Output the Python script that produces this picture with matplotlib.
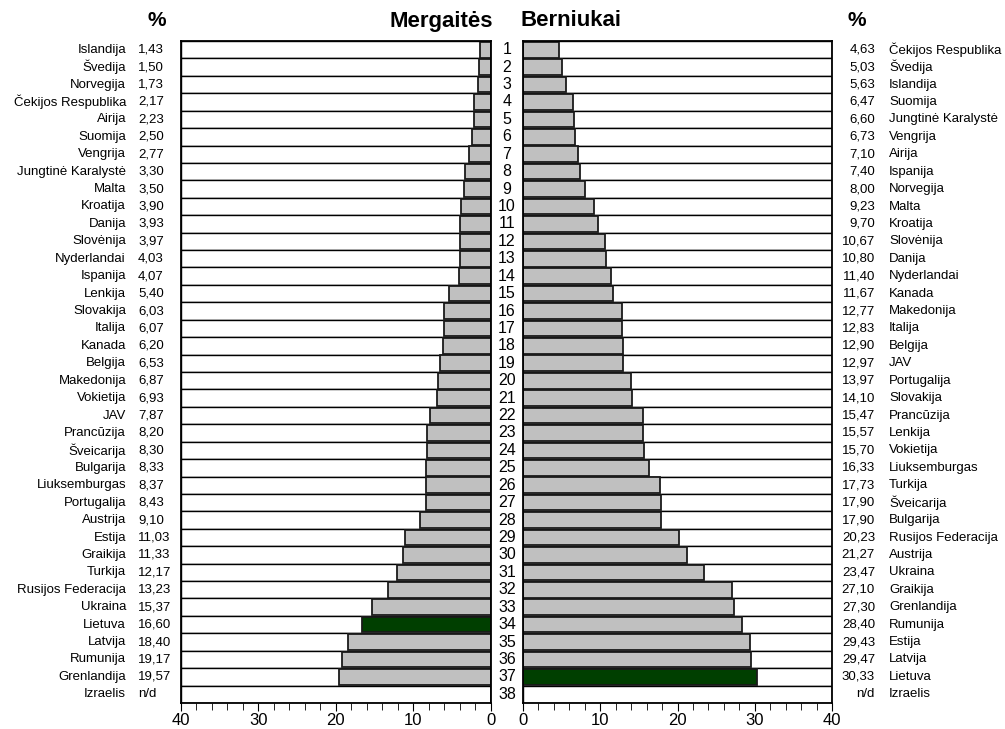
import numpy as np
import matplotlib.pyplot as plt
import matplotlib.transforms as mtransforms
from matplotlib.ticker import MultipleLocator

plt.rcParams['font.family'] = ['Liberation Sans', 'DejaVu Sans']

# Mergaitės (girls), ranked
girls_countries = ['Islandija', 'Švedija', 'Norvegija', 'Čekijos Respublika', 'Airija', 'Suomija',
                   'Vengrija', 'Jungtinė Karalystė', 'Malta', 'Kroatija', 'Danija', 'Slovėnija',
                   'Nyderlandai', 'Ispanija', 'Lenkija', 'Slovakija', 'Italija', 'Kanada', 'Belgija',
                   'Makedonija', 'Vokietija', 'JAV', 'Prancūzija', 'Šveicarija', 'Bulgarija',
                   'Liuksemburgas', 'Portugalija', 'Austrija', 'Estija', 'Graikija', 'Turkija',
                   'Rusijos Federacija', 'Ukraina', 'Lietuva', 'Latvija', 'Rumunija', 'Grenlandija',
                   'Izraelis']
girls_values = [1.43, 1.50, 1.73, 2.17, 2.23, 2.50, 2.77, 3.30, 3.50, 3.90, 3.93, 3.97, 4.03, 4.07,
                5.40, 6.03, 6.07, 6.20, 6.53, 6.87, 6.93, 7.87, 8.20, 8.30, 8.33, 8.37, 8.43, 9.10,
                11.03, 11.33, 12.17, 13.23, 15.37, 16.60, 18.40, 19.17, 19.57, None]

# Berniukai (boys), ranked
boys_countries = ['Čekijos Respublika', 'Švedija', 'Islandija', 'Suomija', 'Jungtinė Karalystė',
                  'Vengrija', 'Airija', 'Ispanija', 'Norvegija', 'Malta', 'Kroatija', 'Slovėnija',
                  'Danija', 'Nyderlandai', 'Kanada', 'Makedonija', 'Italija', 'Belgija', 'JAV',
                  'Portugalija', 'Slovakija', 'Prancūzija', 'Lenkija', 'Vokietija', 'Liuksemburgas',
                  'Turkija', 'Šveicarija', 'Bulgarija', 'Rusijos Federacija', 'Austrija', 'Ukraina',
                  'Graikija', 'Grenlandija', 'Rumunija', 'Estija', 'Latvija', 'Lietuva', 'Izraelis']
boys_values = [4.63, 5.03, 5.63, 6.47, 6.60, 6.73, 7.10, 7.40, 8.00, 9.23, 9.70, 10.67, 10.80,
               11.40, 11.67, 12.77, 12.83, 12.90, 12.97, 13.97, 14.10, 15.47, 15.57, 15.70, 16.33,
               17.73, 17.90, 17.90, 20.23, 21.27, 23.47, 27.10, 27.30, 28.40, 29.43, 29.47, 30.33,
               None]

highlight = 'Lietuva'
grey = '#c0c0c0'
green = '#003f00'

ranks = np.arange(1, len(girls_values) + 1)


def fmt(v):
    return 'n/d' if v is None else f'{v:.2f}'.replace('.', ',')


W, H = 1005, 729
fig = plt.figure(figsize=(W / 100, H / 100), dpi=100)
axL = fig.add_axes([180.5 / W, 26 / H, 310.5 / W, 662 / H])
axR = fig.add_axes([523 / W, 26 / H, 309 / W, 662 / H])

for ax, countries, values in [(axL, girls_countries, girls_values),
                              (axR, boys_countries, boys_values)]:
    # white row boxes behind the bars
    ax.barh(ranks, [40] * len(ranks), height=1.0, color='white', edgecolor='black', linewidth=1.0)
    vals = [0 if v is None else v for v in values]
    colors = [green if c == highlight else grey for c in countries]
    ax.barh(ranks, vals, height=0.9, color=colors, edgecolor='#1a1a1a', linewidth=1.3)
    ax.set_xlim(0, 40)
    ax.set_ylim(38.5, 0.5)
    ax.set_yticks([])
    ax.xaxis.set_major_locator(MultipleLocator(10))
    ax.xaxis.set_minor_locator(MultipleLocator(2))
    ax.tick_params(axis='x', which='major', direction='out', length=6, labelsize=12, pad=1)
    ax.tick_params(axis='x', which='minor', direction='out', length=5)
    for sp in ax.spines.values():
        sp.set_linewidth(1.3)

axL.invert_xaxis()

trL = mtransforms.blended_transform_factory(fig.transFigure, axL.transData)
for r, c, v in zip(ranks, girls_countries, girls_values):
    axL.text(126 / W, r, c, transform=trL, ha='right', va='center', fontsize=9.5, clip_on=False)
    axL.text(138 / W, r, fmt(v), transform=trL, ha='left', va='center', fontsize=9.5, clip_on=False)
    axL.text(507 / W, r, str(r), transform=trL, ha='center', va='center', fontsize=11.5, clip_on=False)

trR = mtransforms.blended_transform_factory(fig.transFigure, axR.transData)
for r, c, v in zip(ranks, boys_countries, boys_values):
    axR.text(875 / W, r, fmt(v), transform=trR, ha='right', va='center', fontsize=9.5, clip_on=False)
    axR.text(889 / W, r, c, transform=trR, ha='left', va='center', fontsize=9.5, clip_on=False)

fig.text(157 / W, 1 - 21 / H, '%', ha='center', va='center', fontsize=15, fontweight='bold')
fig.text(857 / W, 1 - 21 / H, '%', ha='center', va='center', fontsize=15, fontweight='bold')
fig.text(493 / W, 1 - 21 / H, 'Mergaitės', ha='right', va='center', fontsize=16, fontweight='bold')
fig.text(521 / W, 1 - 21 / H, 'Berniukai', ha='left', va='center', fontsize=16, fontweight='bold')

fig.savefig('out.png', dpi=100)
